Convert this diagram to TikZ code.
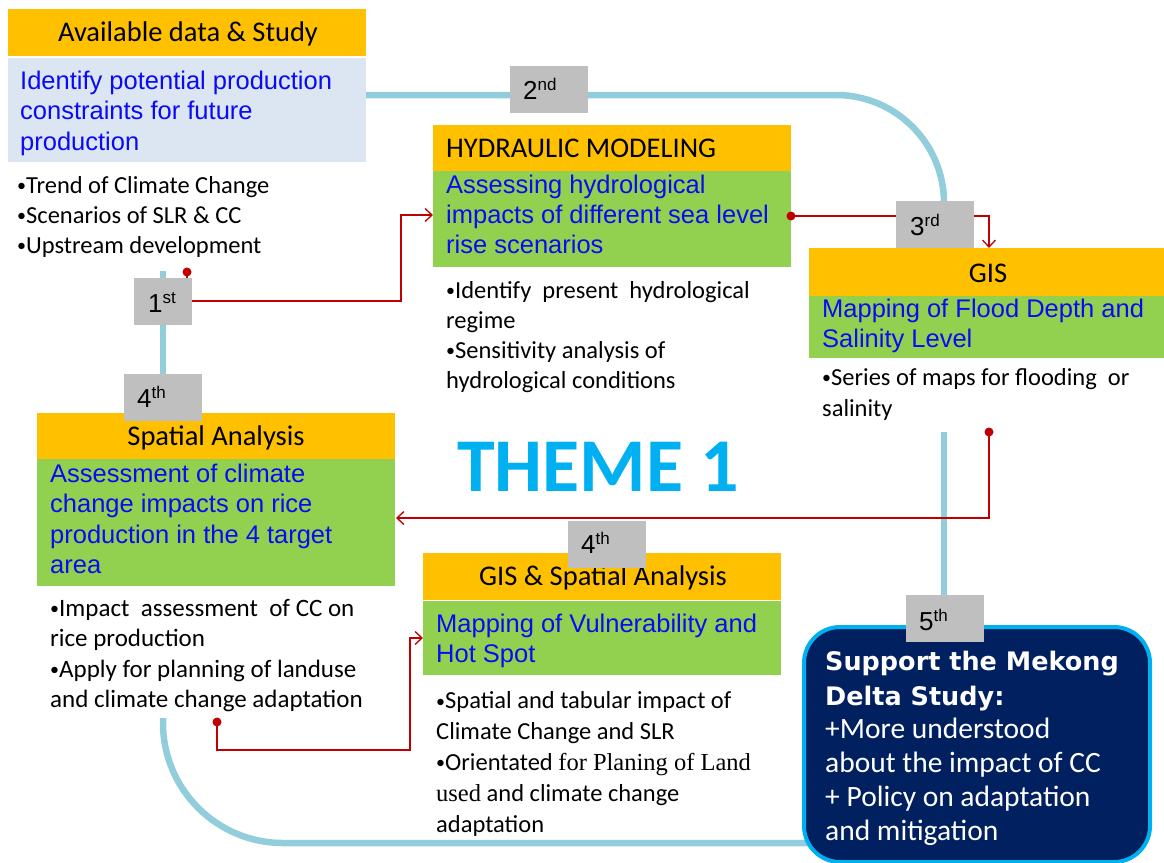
\documentclass[tikz,border=0pt]{standalone}
\usepackage{fontspec}
\setmainfont{Carlito}
\newfontfamily\arialf{Liberation Sans}
\newfontfamily\timesf{Liberation Serif}
\newfontfamily\dejavuf{DejaVu Sans}
\usetikzlibrary{arrows.meta}
\definecolor{orng}{HTML}{FFC000}
\definecolor{grn}{HTML}{92D050}
\definecolor{lblue}{HTML}{DCE6F2}
\definecolor{txtblue}{HTML}{0A0AF5}
\definecolor{greyb}{HTML}{BFBFBF}
\definecolor{loopc}{HTML}{92CDDC}
\definecolor{redc}{HTML}{C00000}
\definecolor{navy}{HTML}{002060}
\definecolor{cyanc}{HTML}{00B0F0}
\newcommand\ordsup[1]{\raisebox{8.5pt}{\fontsize{17}{17}\selectfont #1}}
\newcommand\bul{{\raisebox{1.5pt}{\fontsize{18}{18}\selectfont •}}}
\begin{document}
\begin{tikzpicture}[x=1pt,y=-1pt,
  box/.style={draw=none, inner sep=0pt, anchor=north west},
  hdrtxt/.style={font=\fontsize{28.5}{30}\selectfont, inner sep=0pt, anchor=base},
  bodytxt/.style={text=txtblue, font=\arialf\fontsize{25.5}{30.5}\selectfont, align=left, anchor=base west, inner sep=0pt},
  bullets/.style={font=\fontsize{25}{30.5}\selectfont, align=left, anchor=base west, inner sep=0pt},
  ordbox/.style={fill=greyb, anchor=north west, inner sep=0pt, minimum width=78pt, minimum height=47pt},
  ordtxt/.style={font=\arialf\fontsize{26}{26}\selectfont, anchor=base west, inner sep=0pt},
  loopline/.style={draw=loopc, line width=6.5pt},
  redline/.style={draw=redc, line width=1.3pt},
  redarrow/.style={redline, -{Straight Barb[length=7pt,width=13pt,line width=1.3pt]}},
  reddot/.style={fill=redc, circle, inner sep=0pt, minimum size=9pt}
]
\useasboundingbox (0,0) rectangle (1164,862);

% blue loop
\coordinate (l1) at (366,95);
\coordinate (l2) at (944,95);
\coordinate (l3) at (944,205);
\draw[loopline, rounded corners=108pt] (l1) -- (l2) -- (l3);
\coordinate (l4) at (163,271);
\coordinate (l5) at (163,374);
\draw[loopline] (l4) -- (l5);
\coordinate (l6) at (163,718);
\coordinate (l7) at (163,843);
\coordinate (l8) at (812,843);
\draw[loopline, rounded corners=120pt] (l6) -- (l7) -- (l8);
\coordinate (l9) at (944,432);
\coordinate (l10) at (944,597);
\draw[loopline] (l9) -- (l10);

% red connectors
\coordinate (d1) at (187,272);
\coordinate (t1) at (401,301);
\coordinate (hin) at (433,215);
\draw[redarrow] (d1) |- (t1) |- (hin);
\coordinate (d2) at (791,216);
\coordinate (gin) at (989,248);
\draw[redarrow] (d2) -| (gin);
\coordinate (d3) at (989,432);
\coordinate (sin) at (396,518);
\draw[redarrow] (d3) |- (sin);
\coordinate (d4) at (217,722);
\coordinate (t4) at (410,750);
\coordinate (gsin) at (423,638);
\draw[redarrow] (d4) |- (t4) |- (gsin);

% Box A
\node[box, fill=orng, minimum width=358pt, minimum height=47pt] (Ahdr) at (8,9) {};
\node[hdrtxt] (Ahdrt) at (188,41) {Available data \& Study};
\node[box, fill=lblue, minimum width=358pt, minimum height=104pt] (Abody) at (8,58) {};
\node[bodytxt] (Abodyt) at (20,150) {Identify potential production\\constraints for future\\production};
\node[bullets, font=\fontsize{24.5}{30}\selectfont] (Abul) at (17,253) {\bul Trend of Climate Change\\\bul Scenarios of SLR \& CC\\\bul Upstream development};

% Hydraulic
\node[box, fill=orng, minimum width=358pt, minimum height=47pt] (Hhdr) at (433,125) {};
\node[hdrtxt, anchor=base west] (Hhdrt) at (446,157) {HYDRAULIC MODELING};
\node[box, fill=grn, minimum width=358pt, minimum height=96pt] (Hbody) at (433,171) {};
\node[bodytxt, font=\arialf\fontsize{25.5}{30}\selectfont] (Hbodyt) at (446,253) {Assessing hydrological\\impacts of different sea level\\rise scenarios};
\node[bullets, font=\fontsize{24.5}{30}\selectfont] (Hbul) at (446,388) {\bul Identify\ \ present\ \ hydrological\\regime\\\bul Sensitivity analysis of\\hydrological conditions};

% GIS
\node[box, fill=orng, minimum width=356pt, minimum height=48pt] (Ghdr) at (809,248) {};
\node[hdrtxt] (Ghdrt) at (988,282) {GIS};
\node[box, fill=grn, minimum width=356pt, minimum height=62pt] (Gbody) at (809,296) {};
\node[bodytxt, font=\arialf\fontsize{25.5}{30}\selectfont] (Gbodyt) at (822,347) {Mapping of Flood Depth and\\Salinity Level};
\node[bullets, font=\fontsize{24.5}{31}\selectfont] (Gbul) at (822,416) {\bul Series of maps for flooding\ \ or\\salinity};

% Spatial Analysis
\node[box, fill=orng, minimum width=358pt, minimum height=46pt] (Shdr) at (37,413) {};
\node[hdrtxt] (Shdrt) at (216,445) {Spatial Analysis};
\node[box, fill=grn, minimum width=358pt, minimum height=127pt] (Sbody) at (37,459) {};
\node[bodytxt] (Sbodyt) at (50,573.5) {Assessment of climate\\change impacts on rice\\production in the 4 target\\area};
\node[bullets] (Sbul) at (50,707.5) {\bul Impact\ \ assessment\ \ of CC on\\rice production\\\bul Apply for planning of landuse\\and climate change adaptation};

% GIS & Spatial Analysis
\node[box, fill=orng, minimum width=358pt, minimum height=47pt] (GShdr) at (423,553) {};
\node[hdrtxt] (GShdrt) at (603,585) {GIS \& Spatial Analysis};
\node[box, fill=grn, minimum width=358pt, minimum height=74pt] (GSbody) at (423,601) {};
\node[bodytxt, font=\arialf\fontsize{25.5}{30}\selectfont] (GSbodyt) at (436,662) {Mapping of Vulnerability and\\Hot Spot};
\node[bullets, font=\fontsize{24.5}{30.8}\selectfont] (GSbul) at (436,832) {\bul Spatial and tabular impact of\\Climate Change and SLR\\\bul Orientated {\timesf for Planing of Land}\\{\timesf used} and climate change\\adaptation};

% red dots on top
\node[reddot] (dot1) at (d1) {};
\node[reddot] (dot2) at (d2) {};
\node[reddot] (dot3) at (d3) {};
\node[reddot] (dot4) at (d4) {};

% Final box
\node[box, draw=cyanc, fill=navy, line width=4pt, rounded corners=36pt, minimum width=346pt, minimum height=235pt] (final) at (802,625) {};
\node[anchor=base west, inner sep=0pt, align=left, text=white, font=\dejavuf\bfseries\fontsize{25.5}{35}\selectfont] (finalt) at (825,705) {Support the Mekong\\Delta Study:};
\node[anchor=base west, inner sep=0pt, align=left, text=white, font=\fontsize{29.5}{34}\selectfont] (finalb) at (825,840) {+More understood\\about the impact of CC\\+ Policy on adaptation\\and mitigation};

% THEME 1
\node[anchor=base west, inner sep=0pt, text=cyanc, font=\bfseries\fontsize{76}{76}\selectfont] (theme) at (457,491) {THEME 1};

% order labels
\node[ordbox, minimum width=58pt] (o1) at (134,278) {};
\node[ordtxt] (o1t) at (148,312) {1\ordsup{st}};
\node[ordbox] (o2) at (510,66) {};
\node[ordtxt] (o2t) at (523,99) {2\ordsup{nd}};
\node[ordbox] (o3) at (896,201) {};
\node[ordtxt] (o3t) at (910,235) {3\ordsup{rd}};
\node[ordbox] (o4a) at (124,374) {};
\node[ordtxt] (o4at) at (137,407) {4\ordsup{th}};
\node[ordbox] (o4b) at (568,521) {};
\node[ordtxt] (o4bt) at (581,553) {4\ordsup{th}};
\node[ordbox] (o5) at (906,595) {};
\node[ordtxt] (o5t) at (919,630) {5\ordsup{th}};
\end{tikzpicture}
\end{document}
